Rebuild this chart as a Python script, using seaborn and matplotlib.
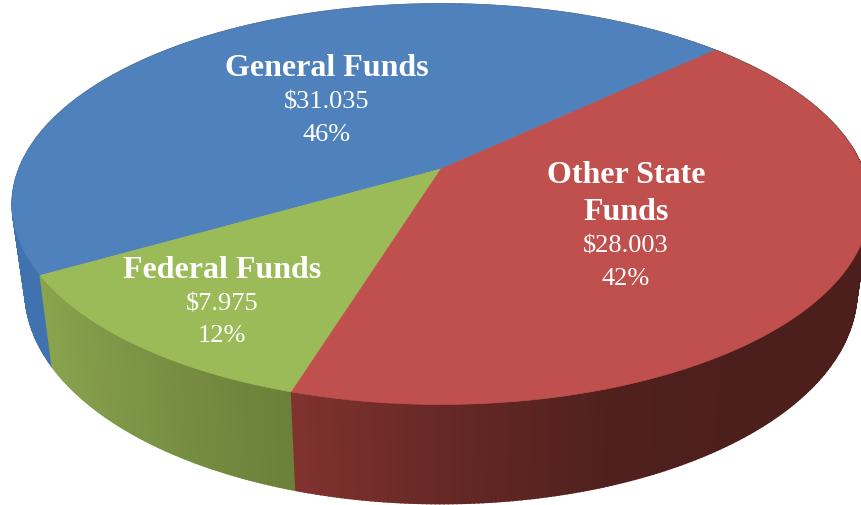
import numpy as np
import seaborn as sns
import matplotlib.pyplot as plt

# funding split, $ values as printed on the chart
categories = ['General Funds', 'Federal Funds', 'Other State\nFunds']
amounts = [31.035, 7.975, 28.003]
amount_labels = ['$31.035', '$7.975', '$28.003']
percent_labels = ['46%', '12%', '42%']

sns.set_theme(style='white')
plt.rcParams['font.family'] = ['Liberation Serif', 'DejaVu Serif']

top_colors = ['#4F81BD', '#9BBB59', '#C0504D']
side_colors = [['#3B6CA8', '#3F72AE'],
               ['#8AA44E', '#7C9446', '#6B8038'],
               ['#80322F', '#642825', '#4F201D', '#4D1F1C', '#4D1F1C', '#4D1F1C', '#4D1F1C', '#4D1F1C', '#4D1F1C']]

# camera settings for the fake 3D look
cx, cy = 441, 170
rx, ry = 422, 194
persp = 0.176
start_angle = 43.3


def project(theta, depth=0.0):
    u, v = np.cos(theta), np.sin(theta)
    w = 1 + persp * v
    dx = rx * u / w
    dy = ry * v / w
    shrink = 1 - 0.03 * depth
    x = cx + dx * shrink
    y = cy - dy + depth * 84 * (1 - 0.18 * v)
    return x, y


fig, ax = plt.subplots(figsize=(8.62, 5.06), dpi=100)
fig.subplots_adjust(0, 0, 1, 1)
ax.set_xlim(0, 862)
ax.set_ylim(506, 0)
ax.axis('off')

fractions = np.array(amounts) / sum(amounts)
edges = np.deg2rad(start_angle) + np.concatenate([[0], np.cumsum(fractions)]) * 2 * np.pi

# side wall first, as thin strips so the shading can run left to right
for i in range(3):
    angles = np.linspace(edges[i], edges[i + 1], int(np.degrees(edges[i + 1] - edges[i]) * 2) + 2)
    xt, yt = project(angles)
    xb, yb = project(angles, 1.0)
    visible = np.where(yb > yt)[0]
    shades = sns.blend_palette(side_colors[i], len(visible))
    for n, k in enumerate(visible[:-1]):
        ax.fill([xt[k], xt[k + 1], xb[k + 1], xb[k]],
                [yt[k], yt[k + 1], yb[k + 1], yb[k]],
                color=shades[n], lw=1.2, zorder=1)

# faint grey rim along the back edge
rim = np.linspace(np.deg2rad(5), np.deg2rad(175), 300)
ax.plot(*project(rim), color='#777777', lw=1.2, alpha=0.6, zorder=1.5)

# top face
for i in range(3):
    angles = np.linspace(edges[i], edges[i + 1], 300)
    xt, yt = project(angles)
    ax.fill(np.r_[cx, xt], np.r_[cy, yt], color=top_colors[i], lw=0.5, zorder=2)

name_pos = [(327, 68), (222, 271), (626, 194)]
amount_pos = [(327, 102), (222, 304), (626, 247)]
pct_pos = [(327, 135), (222, 336), (626, 279)]
for i in range(3):
    ax.text(*name_pos[i], categories[i], color='white', fontsize=23, fontweight='bold',
            ha='center', va='center', linespacing=1.35, zorder=3)
    ax.text(*amount_pos[i], amount_labels[i], color='white', fontsize=19,
            ha='center', va='center', zorder=3)
    ax.text(*pct_pos[i], percent_labels[i], color='white', fontsize=19,
            ha='center', va='center', zorder=3)

plt.savefig('out.png', dpi=100, facecolor='white')
